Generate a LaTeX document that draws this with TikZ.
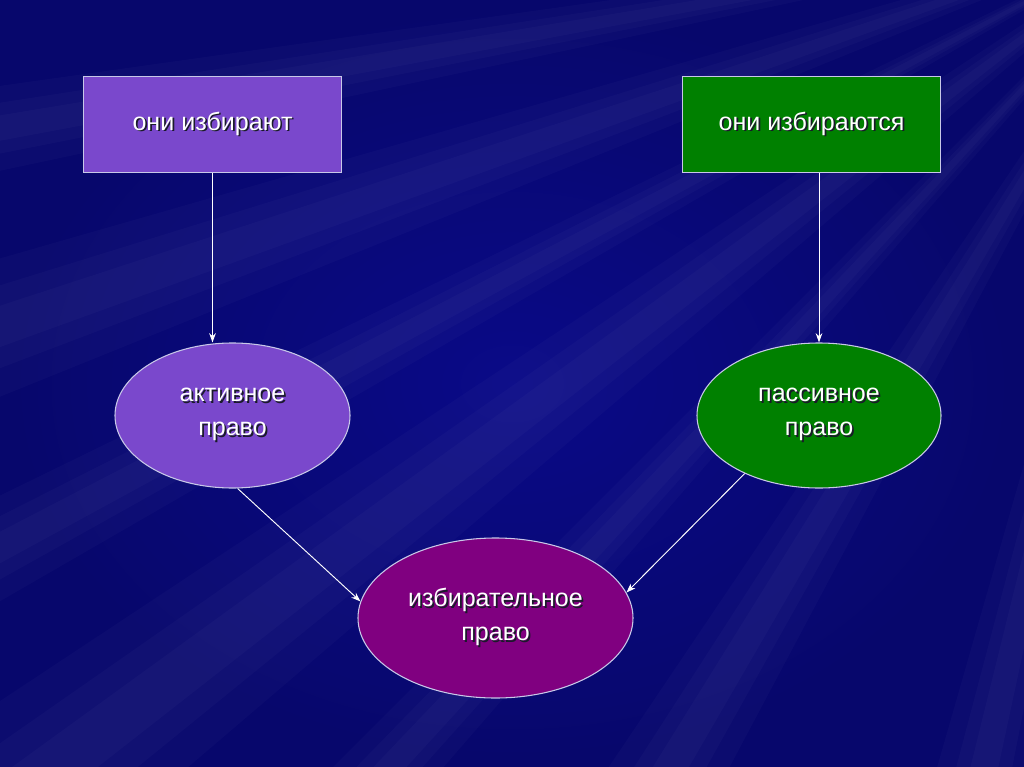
\documentclass[tikz,border=0pt]{standalone}
\usepackage{fontspec}
\setmainfont{Liberation Sans}
\usetikzlibrary{arrows.meta, positioning, shapes.geometric}
\definecolor{bgnavy}{HTML}{0A0A88}
\definecolor{bgdark}{HTML}{05054A}
\definecolor{violetfill}{HTML}{7A48CC}
\definecolor{greenfill}{HTML}{008000}
\definecolor{plumfill}{HTML}{800080}
\definecolor{edgeclr}{HTML}{C8C8E8}
\definecolor{shadowclr}{HTML}{1A1A2A}

% text with a small drop shadow
\newcommand{\shd}[1]{\leavevmode\rlap{\kern1.3pt\raisebox{-1.3pt}{\color{shadowclr}#1}}#1}

\begin{document}
\begin{tikzpicture}[
  x=0.75pt, y=-0.75pt,
  >={Stealth[length=7pt, width=5pt]},
  box/.style={draw=edgeclr, line width=0.8pt, inner sep=0pt,
    minimum width=194pt, minimum height=72.5pt, text=white,
    font=\fontsize{18.8}{25.5}\selectfont},
  oval/.style={ellipse, draw=edgeclr, line width=0.8pt, inner sep=0pt,
    minimum height=108.75pt, text=white, align=center,
    font=\fontsize{18.8}{25.5}\selectfont},
  link/.style={->, white, line width=0.7pt},
]

\useasboundingbox (0,0) rectangle (1024,767);

% Background
\shade[inner color=bgnavy, outer color=bgdark] (0,0) rectangle (1024,767);
\fill[bgnavy, opacity=0.55] (0,0) rectangle (1024,767);
% soft rays from the upper right
\foreach \c/\w in {121/3, 133/2, 143/3.5, 152/2, 161/3, 103/3, 170/2} {
  \foreach \k in {1,0.6,0.3} {
    \fill[white, opacity=0.025]
      (1180,-80) -- +(\c-\w*\k:1700) -- +(\c+\w*\k:1700) -- cycle;
  }
}

% Top boxes
\node[box, fill=violetfill] (voters) at (212.5,124.5) {\shd{они избирают}};
\node[box, fill=greenfill] (elected) at (811.5,124.5) {\shd{они избираются}};

% Ellipses
\node[oval, fill=violetfill, minimum width=176.25pt] (active) at (232.5,415.5)
  {\shd{активное}\\\shd{право}};
\node[oval, fill=greenfill, minimum width=183pt] (passive) at (819,415.5)
  {\shd{пассивное}\\\shd{право}};
\node[oval, fill=plumfill, minimum width=206.25pt, minimum height=120pt] (suffrage)
  at (495.5,618) {\shd{избирательное}\\\shd{право}};

% Connectors
\draw[link] (voters.south) -- (voters.south |- active.north);
\draw[link] (passive.north |- elected.south) -- (passive.north);
\draw[link] (active.-86) -- (suffrage.173);
\draw[link] (passive.218) -- (suffrage.11);

\end{tikzpicture}
\end{document}
